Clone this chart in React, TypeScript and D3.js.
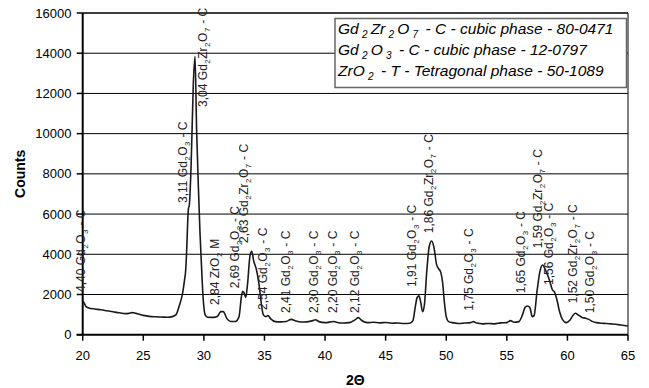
import React from 'react';
import * as d3 from 'd3';

const theta = [
  20.0, 20.1, 20.25, 20.5, 21.0, 21.5, 22.0, 22.5, 23.0, 23.5, 23.8, 24.1, 24.4, 25.0, 25.5, 26.0, 26.5, 27.0,
  27.4, 27.7, 27.95, 28.24, 28.4, 28.5, 28.6, 28.66, 28.72, 28.8, 28.95, 29.13, 29.27, 29.4, 29.55, 29.68, 29.85,
  29.95, 30.1, 30.3, 30.8, 31.1, 31.4, 31.6, 31.9, 32.2, 32.6, 32.9, 33.1, 33.2, 33.3, 33.45, 33.6, 33.8, 33.95,
  34.1, 34.35, 34.55, 34.75, 34.9, 35.1, 35.3, 35.5, 35.9, 36.3, 36.8, 37.2, 37.6, 38.0, 38.5, 39.0, 39.2, 39.5,
  40.0, 40.5, 40.7, 41.0, 41.5, 42.0, 42.5, 42.75, 43.0, 43.5, 44.0, 44.5, 45.0, 45.5, 46.0, 46.5, 47.0, 47.25,
  47.45, 47.6, 47.75, 47.9, 48.05, 48.2, 48.4, 48.6, 48.8, 49.0, 49.2, 49.35, 49.55, 49.7, 49.85, 50.0, 50.2,
  50.5, 51.0, 51.5, 52.0, 52.25, 52.5, 53.0, 53.5, 54.0, 54.5, 55.0, 55.3, 55.6, 56.0, 56.3, 56.5, 56.7, 56.9,
  57.1, 57.25, 57.5, 57.75, 57.95, 58.2, 58.5, 58.75, 58.95, 59.15, 59.35, 59.6, 59.9, 60.2, 60.45, 60.65, 60.9,
  61.2, 61.5, 61.8, 62.1, 62.4, 62.8, 63.2, 63.6, 64.0, 64.4, 64.7, 65.0,
];
const counts = [
  1650, 1600, 1420, 1330, 1280, 1240, 1190, 1140, 1090, 1050, 1060, 1100, 1060, 960, 910, 890, 880, 870,
  900, 1000, 1400, 2060, 2700, 3220, 4500, 5540, 6250, 6450, 8500, 12500, 13850, 10200, 7300, 5060, 2800,
  1730, 1000, 870, 860, 900, 1150, 1150, 800, 660, 660, 900, 1900, 2150, 2100, 1850, 2500, 3900, 4150,
  3700, 3200, 2500, 1500, 1000, 900, 950, 800, 650, 640, 660, 760, 680, 630, 640, 700, 740, 650,
  600, 640, 660, 610, 580, 600, 750, 850, 720, 600, 620, 590, 610, 570, 580, 560, 570, 700,
  1400, 1850, 1930, 1600, 1150, 1500, 3200, 4400, 4660, 4300, 3500, 3300, 3100, 2600, 1600, 900, 650,
  600, 560, 580, 600, 650, 580, 540, 560, 540, 590, 600, 700, 620, 650, 1000, 1350, 1430, 1350,
  900, 950, 2200, 3200, 3470, 3200, 2750, 2250, 2100, 1700, 1150, 750, 600, 720, 950, 1070, 980,
  860, 820, 750, 650, 600, 570, 560, 540, 520, 480, 460, 430,
];

const xTicks = [20, 25, 30, 35, 40, 45, 50, 55, 60, 65];
const yTicks = [0, 2000, 4000, 6000, 8000, 10000, 12000, 14000, 16000];

const peakLabels = [
  '4,40 Gd_2O_3 - C',
  '3,11 Gd_2O_3 - C',
  '3,04 Gd_2Zr_2O_7 - C',
  '2,84 ZrO_2 M',
  '2,69 Gd_2O_3 - C',
  '2,63 Gd_2Zr_2O_7 - C',
  '2,54 Gd_2O_3 - C',
  '2,41 Gd_2O_3 - C',
  '2,30 Gd_2O_3 - C',
  '2,20 Gd_2O_3 - C',
  '2,12 Gd_2O_3 - C',
  '1,91 Gd_2O_3 - C',
  '1,86 Gd_2Zr_2O_7 - C',
  '1,75 Gd_2O_3 - C',
  '1,65 Gd_2O_3 - C',
  '1,59 Gd_2Zr_2O_7 - C',
  '1,56 Gd_2O_3 - C',
  '1,52 Gd_2Zr_2O_7 - C',
  '1,50 Gd_2O_3 - C',
];
const peakTheta = [20.19, 28.6, 30.23, 31.25, 32.9, 33.66, 35.18, 37.1, 39.44, 40.96, 42.82, 47.52, 48.93, 52.18, 56.49, 57.87, 58.83, 60.76, 62.19];
const peakCount = [2125, 6550, 11330, 1480, 2310, 4560, 1230, 1080, 1080, 1080, 1080, 2370, 5045, 1195, 2060, 4300, 2470, 1560, 1065];

const legendLines = [
  'Gd_2Zr_2O_7 - C - cubic phase - 80-0471',
  'Gd_2O_3 - C - cubic phase - 12-0797',
  'ZrO_2 - T - Tetragonal phase - 50-1089',
];

const FONT = 'Liberation Sans, Arial, Helvetica, sans-serif';

function chem(str: string, subSize: number, shift: number, gap: number) {
  const parts = str.split(/_(\d)/);
  const out: React.ReactNode[] = [];
  parts.forEach((p, i) => {
    if (i % 2 === 0) {
      if (p) out.push(<tspan key={i} dy={i > 0 ? -shift : 0} dx={i > 0 ? gap : 0}>{p}</tspan>);
    } else {
      out.push(
        <tspan key={i} fontSize={subSize} dy={shift} dx={gap}>
          {p}
        </tspan>
      );
    }
  });
  return out;
}

export default function App() {
  const W = 649;
  const H = 388;
  const x = d3.scaleLinear().domain([20, 65]).range([82.7, 628]);
  const y = d3.scaleLinear().domain([0, 16000]).range([334.7, 13]);
  const pts = theta.map((t, i) => [t, counts[i]] as [number, number]);
  const line = d3
    .line<[number, number]>()
    .x((d) => x(d[0]))
    .y((d) => y(d[1]))
    .curve(d3.curveMonotoneX);
  const x0 = x(20), x1 = x(65), yb = y(0), yt = y(16000);

  return (
    <svg width={W} height={H} style={{ position: 'absolute', left: 0, top: 0, background: '#fff' }} fontFamily={FONT}>
      <rect x={0} y={0} width={W} height={H} fill="#fff" />
      {yTicks.filter((t) => t > 0 && t < 16000).map((t) => (
        <line key={t} x1={x0} x2={x1} y1={y(t)} y2={y(t)} stroke="#000" strokeWidth={1} />
      ))}
      <line x1={x0} x2={x1} y1={yt} y2={yt} stroke="#000" strokeWidth={1.5} />
      <line x1={x1} x2={x1} y1={yt} y2={yb} stroke="#000" strokeWidth={1} />
      <line x1={x0} x2={x0} y1={yt} y2={yb} stroke="#000" strokeWidth={2} />
      {yTicks.map((t) => (
        <g key={t}>
          <line x1={x0 - 6} x2={x0} y1={y(t)} y2={y(t)} stroke="#000" strokeWidth={1.5} />
          <text x={71.5} y={y(t)} dy="0.35em" textAnchor="end" fontSize={13} fill="#000">
            {t}
          </text>
        </g>
      ))}
      <line x1={x0 - 6} x2={x1} y1={yb} y2={yb} stroke="#000" strokeWidth={2} />
      {xTicks.map((t) => (
        <g key={t}>
          <line x1={x(t)} x2={x(t)} y1={yb} y2={yb + 6} stroke="#000" strokeWidth={1.5} />
          <text x={x(t)} y={355} dy="0.35em" textAnchor="middle" fontSize={13} fill="#000">
            {t}
          </text>
        </g>
      ))}
      <rect x={335} y={18.5} width={291.5} height={69} fill="#fff" stroke="#666" strokeWidth={1.5} />
      {legendLines.map((l, i) => (
        <text key={i} x={338} y={34 + i * 21} fontSize={15.5} fontStyle="italic" fill="#000">
          {chem(l, 10, 4, 3.2)}
        </text>
      ))}
      <path d={line(pts) || ''} fill="none" stroke="#1a1a1a" strokeWidth={1.6} strokeLinejoin="round" />
      {peakLabels.map((l, i) => (
        <text
          key={i}
          transform={`translate(${x(peakTheta[i])},${y(peakCount[i])}) rotate(-90)`}
          dy="0.35em"
          fontSize={12}
          fill="#222"
        >
          {chem(l, 8, 3, 0.5)}
        </text>
      ))}
      <text transform={`translate(20,${(yt + yb) / 2}) rotate(-90)`} dy="0.35em" textAnchor="middle" fontSize={14} fontWeight="bold">
        Counts
      </text>
      <text x={(x0 + x1) / 2} y={385} textAnchor="middle" fontSize={14} fontWeight="bold">
        2Θ
      </text>
    </svg>
  );
}
